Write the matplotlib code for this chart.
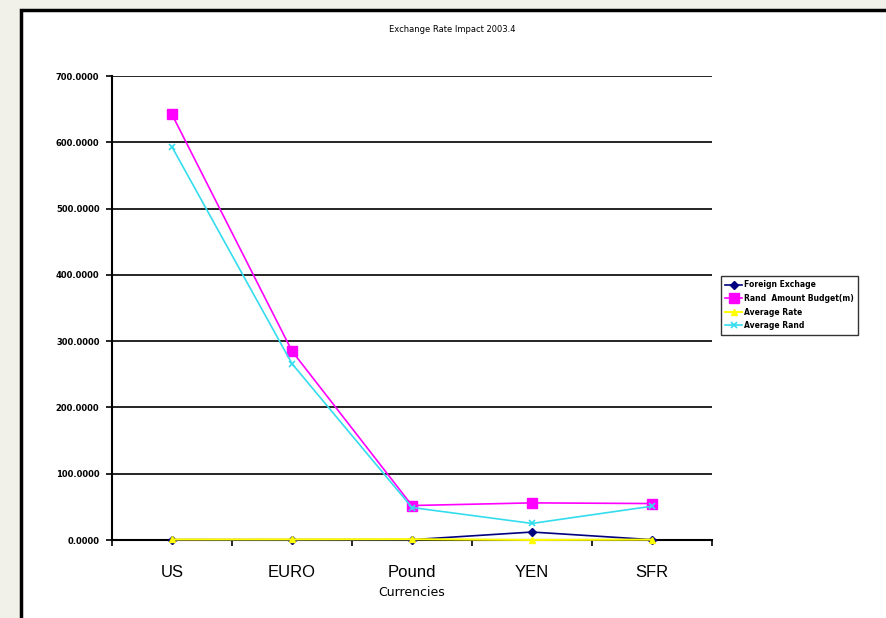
import numpy as np
import matplotlib
matplotlib.use("Agg")
import matplotlib.pyplot as plt
from matplotlib.patches import Rectangle

currencies = ["US", "EURO", "Pound", "YEN", "SFR"]
foreign_exchange = [0.5, 0.5, 0.5, 12.0, 0.5]
rand_budget = [642.0, 285.0, 52.0, 56.0, 55.0]
average_rate = [0.8, 0.9, 1.2, 0.1, 0.6]
average_rand = [593.0, 266.0, 49.0, 25.0, 51.0]
y_ticks = [0, 100, 200, 300, 400, 500, 600, 700]

plt.rcParams['font.family'] = ['DejaVu Sans']

fig = plt.figure(figsize=(8.86, 6.18), dpi=100)
fig.patch.set_facecolor("#f1f1ea")
# white panel with black frame, like the pasted Excel chart
fig.patches.append(Rectangle((21 / 886, -0.05), 1.0, 1 - 10 / 618 + 0.05,
                             transform=fig.transFigure, facecolor="white",
                             edgecolor="black", linewidth=2.5, zorder=-5))

ax = fig.add_axes([112 / 886, 78 / 618, 600 / 886, 464 / 618])
ax.set_facecolor("white")
x = np.arange(len(currencies))

ax.plot(x, foreign_exchange, color="#000080", marker="D", markersize=4, lw=1.2,
        label="Foreign Exchage", zorder=4, clip_on=False)
ax.plot(x, rand_budget, color="#ff00ff", marker="s", markersize=7, lw=1.2,
        label="Rand  Amount Budget(m)", zorder=3)
ax.plot(x, average_rate, color="#ffff00", marker="^", markersize=5, lw=1.5,
        label="Average Rate", zorder=5, clip_on=False)
ax.plot(x, average_rand, color="#33ddee", marker="x", markersize=5, mew=1.2, lw=1.2,
        label="Average Rand", zorder=3)

ax.set_xlim(-0.5, len(currencies) - 0.5)
ax.set_ylim(0, 700)
ax.set_yticks(y_ticks)
ax.set_yticklabels([f"{v:.4f}" for v in y_ticks], fontsize=6, fontweight="bold")
ax.yaxis.grid(True, color="black", lw=1.2)
ax.set_axisbelow(True)

ax.set_xticks(x)
ax.set_xticklabels(currencies, fontsize=12, family="Liberation Sans")
ax.set_xticks(np.arange(-0.5, len(currencies)), minor=True)
ax.tick_params(axis="x", which="major", length=0, pad=18)
ax.tick_params(axis="x", which="minor", length=4, width=1.2, direction="out")
ax.tick_params(axis="y", length=4, width=1.2, direction="out", pad=5)
ax.set_xlabel("Currencies", fontsize=9, labelpad=4)

for side in ["top", "right"]:
    ax.spines[side].set_visible(False)
for side in ["left", "bottom"]:
    ax.spines[side].set_linewidth(1.5)
    ax.spines[side].set_color("black")

fig.text(452 / 886, 1 - 30 / 618, "Exchange Rate Impact 2003.4", ha="center",
         va="center", fontsize=6)

leg = fig.legend(loc="upper left", bbox_to_anchor=(717 / 886, 1 - 272 / 618),
                 frameon=True, fancybox=False, edgecolor="black",
                 prop={"weight": "bold", "size": 5.5}, handlelength=2.2,
                 handletextpad=0.2, borderpad=0.6, labelspacing=0.6)
leg.get_frame().set_linewidth(1.0)

fig.savefig("out.png", dpi=100, facecolor=fig.get_facecolor())
